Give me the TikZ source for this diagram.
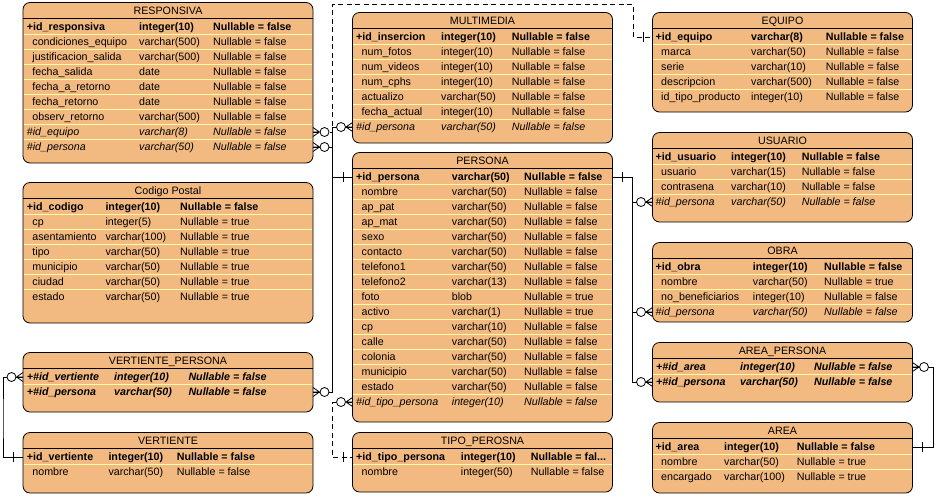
\documentclass[tikz,border=0pt]{standalone}
\usepackage{fontspec}
\setmainfont{Liberation Sans}
\usetikzlibrary{calc}
\definecolor{boxfill}{RGB}{242,186,128}
\definecolor{sepcol}{RGB}{255,255,165}
\newcommand\erfont{\fontsize{10.7}{12}\selectfont}
\newcommand\erSet[8]{\def\erN{#1}\def\erL{#2}\def\erT{#3}\def\erR{#4}\def\erB{#5}\def\erA{#6}\def\erX{#7}\def\erY{#8}}
\newcommand\erBox[2]{%
  \node[erbox, minimum width={(\erR-\erL)*1pt}, minimum height={(\erB-\erT)*1pt}, anchor=north west] (\erN) at (\erL,\erT) {};
  \node[ertitle] (\erN-title) at ({(\erL+\erR)/2},\erT+11.8) {#1};
  \draw[erline] (\erL,\erT+16) -- (\erR,\erT+16);
  \foreach \i in {1,...,#2} {\draw[sepline] (\erL+0.6,{\erT+17+15*\i}) -- (\erR-0.6,{\erT+17+15*\i});}
}
\newcommand\erRow[5]{%
  \pgfmathsetmacro\ery{\erT+24.5+15*#1}%
  \pgfmathsetmacro\erb{\ery+3.9}%
  \coordinate (\erN-#1-w) at (\erL,\ery);
  \coordinate (\erN-#1-e) at (\erR,\ery);
  \node[cell,er#2n] (\erN-#1-n) at (\erA,\erb) {#3};
  \node[cell,er#2v] (\erN-#1-t) at (\erX,\erb) {#4};
  \node[cell,er#2v] (\erN-#1-v) at (\erY,\erb) {#5};
}
\newcommand\manyW[1]{%
  \draw[conn] ($(#1)+(-6.5,0)$) -- ($(#1)+(0,-4.5)$) ($(#1)+(-6.5,0)$) -- ($(#1)+(0,4.5)$) ($(#1)+(-6.5,0)$) -- (#1);
  \draw[conn,fill=white] ($(#1)+(-11.5,0)$) circle[radius=4.5pt];}
\newcommand\manyE[1]{%
  \draw[conn] ($(#1)+(6.5,0)$) -- ($(#1)+(0,-4.5)$) ($(#1)+(6.5,0)$) -- ($(#1)+(0,4.5)$) ($(#1)+(6.5,0)$) -- (#1);
  \draw[conn,fill=white] ($(#1)+(11.5,0)$) circle[radius=4.5pt];}
\newcommand\oneW[1]{\draw[conn] ($(#1)+(-9.5,-5)$) -- ($(#1)+(-9.5,5)$);}
\newcommand\oneE[1]{\draw[conn] ($(#1)+(9.5,-5)$) -- ($(#1)+(9.5,5)$);}
\tikzset{
  erbox/.style={draw=black, line width=0.8pt, fill=boxfill, rounded corners=7pt, inner sep=0pt, outer sep=0pt},
  ertitle/.style={anchor=base, inner sep=0pt, font=\erfont},
  erline/.style={draw=black, line width=0.8pt},
  sepline/.style={draw=sepcol, line width=0.9pt},
  cell/.style={anchor=base west, inner sep=0pt, font=\erfont},
  erkn/.style={font={\erfont\bfseries}}, erkv/.style={font={\erfont\bfseries}},
  erpn/.style={xshift=5.5pt}, erpv/.style={},
  erfn/.style={font={\erfont\itshape}}, erfv/.style={font={\erfont\itshape}},
  erbn/.style={font={\erfont\bfseries\itshape}}, erbv/.style={font={\erfont\bfseries\itshape}},
  conn/.style={draw=black, line width=0.8pt},
  dconn/.style={conn, dash pattern=on 5pt off 3.5pt}
}
\begin{document}
\begin{tikzpicture}[x=1pt, y=-1pt]
\fill[white] (0,0) rectangle (936,496);
\useasboundingbox (0,0) rectangle (936,496);

% RESPONSIVA
\erSet{RESP}{23}{2.5}{313}{163}{26.7}{139}{213}
\erBox{RESPONSIVA}{8}
\erRow{0}{k}{+id\_responsiva}{integer(10)}{Nullable = false}
\erRow{1}{p}{condiciones\_equipo}{varchar(500)}{Nullable = false}
\erRow{2}{p}{justificacion\_salida}{varchar(500)}{Nullable = false}
\erRow{3}{p}{fecha\_salida}{date}{Nullable = false}
\erRow{4}{p}{fecha\_a\_retorno}{date}{Nullable = false}
\erRow{5}{p}{fecha\_retorno}{date}{Nullable = false}
\erRow{6}{p}{observ\_retorno}{varchar(500)}{Nullable = false}
\erRow{7}{f}{\#id\_equipo}{varchar(8)}{Nullable = false}
\erRow{8}{f}{\#id\_persona}{varchar(50)}{Nullable = false}

% Codigo Postal
\erSet{CPOS}{23}{182.5}{313}{323}{26.7}{105.3}{180}
\erBox{Codigo Postal}{6}
\erRow{0}{k}{+id\_codigo}{integer(10)}{Nullable = false}
\erRow{1}{p}{cp}{integer(5)}{Nullable = true}
\erRow{2}{p}{asentamiento}{varchar(100)}{Nullable = true}
\erRow{3}{p}{tipo}{varchar(50)}{Nullable = true}
\erRow{4}{p}{municipio}{varchar(50)}{Nullable = true}
\erRow{5}{p}{ciudad}{varchar(50)}{Nullable = true}
\erRow{6}{p}{estado}{varchar(50)}{Nullable = true}

% VERTIENTE_PERSONA
\erSet{VPER}{23}{352.5}{313}{412}{26.7}{114}{188.3}
\erBox{VERTIENTE\_PERSONA}{1}
\erRow{0}{b}{+\#id\_vertiente}{integer(10)}{Nullable = false}
\erRow{1}{b}{+\#id\_persona}{varchar(50)}{Nullable = false}

% VERTIENTE
\erSet{VERT}{23}{432.5}{313}{493}{26.7}{108.3}{176.7}
\erBox{VERTIENTE}{1}
\erRow{0}{k}{+id\_vertiente}{integer(10)}{Nullable = false}
\erRow{1}{p}{nombre}{varchar(50)}{Nullable = false}

% MULTIMEDIA
\erSet{MULT}{352.5}{12.5}{612.5}{143}{356}{441}{511.7}
\erBox{MULTIMEDIA}{6}
\erRow{0}{k}{+id\_insercion}{integer(10)}{Nullable = false}
\erRow{1}{p}{num\_fotos}{integer(10)}{Nullable = false}
\erRow{2}{p}{num\_videos}{integer(10)}{Nullable = false}
\erRow{3}{p}{num\_cphs}{integer(10)}{Nullable = false}
\erRow{4}{p}{actualizo}{varchar(50)}{Nullable = false}
\erRow{5}{p}{fecha\_actual}{integer(10)}{Nullable = false}
\erRow{6}{f}{\#id\_persona}{varchar(50)}{Nullable = false}

% PERSONA
\erSet{PERS}{352.5}{152.5}{612.5}{422}{356}{451.7}{524}
\erBox{PERSONA}{15}
\erRow{0}{k}{+id\_persona}{varchar(50)}{Nullable = false}
\erRow{1}{p}{nombre}{varchar(50)}{Nullable = false}
\erRow{2}{p}{ap\_pat}{varchar(50)}{Nullable = false}
\erRow{3}{p}{ap\_mat}{varchar(50)}{Nullable = false}
\erRow{4}{p}{sexo}{varchar(50)}{Nullable = false}
\erRow{5}{p}{contacto}{varchar(50)}{Nullable = false}
\erRow{6}{p}{telefono1}{varchar(50)}{Nullable = false}
\erRow{7}{p}{telefono2}{varchar(13)}{Nullable = false}
\erRow{8}{p}{foto}{blob}{Nullable = true}
\erRow{9}{p}{activo}{varchar(1)}{Nullable = true}
\erRow{10}{p}{cp}{varchar(10)}{Nullable = false}
\erRow{11}{p}{calle}{varchar(50)}{Nullable = false}
\erRow{12}{p}{colonia}{varchar(50)}{Nullable = false}
\erRow{13}{p}{municipio}{varchar(50)}{Nullable = false}
\erRow{14}{p}{estado}{varchar(50)}{Nullable = false}
\erRow{15}{f}{\#id\_tipo\_persona}{integer(10)}{Nullable = false}

% TIPO_PEROSNA
\erSet{TIPO}{352.5}{432.5}{612.5}{492}{356}{460.7}{530.7}
\erBox{TIPO\_PEROSNA}{1}
\erRow{0}{k}{+id\_tipo\_persona}{integer(10)}{Nullable = fal...}
\erRow{1}{p}{nombre}{integer(50)}{Nullable = false}

% EQUIPO
\erSet{EQUI}{652.5}{12.5}{912.5}{112}{655.5}{751}{825.7}
\erBox{EQUIPO}{4}
\erRow{0}{k}{+id\_equipo}{varchar(8)}{Nullable = false}
\erRow{1}{p}{marca}{varchar(50)}{Nullable = false}
\erRow{2}{p}{serie}{varchar(10)}{Nullable = false}
\erRow{3}{p}{descripcion}{varchar(500)}{Nullable = false}
\erRow{4}{p}{id\_tipo\_producto}{integer(10)}{Nullable = false}

% USUARIO
\erSet{USUA}{652.5}{132.5}{912.5}{222}{655.5}{731}{801.7}
\erBox{USUARIO}{3}
\erRow{0}{k}{+id\_usuario}{integer(10)}{Nullable = false}
\erRow{1}{p}{usuario}{varchar(15)}{Nullable = false}
\erRow{2}{p}{contrasena}{varchar(10)}{Nullable = false}
\erRow{3}{f}{\#id\_persona}{varchar(50)}{Nullable = false}

% OBRA
\erSet{OBRA}{652.5}{242.5}{912.5}{322}{655.5}{752.7}{824}
\erBox{OBRA}{3}
\erRow{0}{k}{+id\_obra}{integer(10)}{Nullable = false}
\erRow{1}{p}{nombre}{varchar(50)}{Nullable = true}
\erRow{2}{p}{no\_beneficiarios}{integer(10)}{Nullable = false}
\erRow{3}{f}{\#id\_persona}{varchar(50)}{Nullable = false}

% AREA_PERSONA
\erSet{APER}{652.5}{342.5}{912.5}{402}{656}{740}{814}
\erBox{AREA\_PERSONA}{1}
\erRow{0}{b}{+\#id\_area}{integer(10)}{Nullable = false}
\erRow{1}{b}{+\#id\_persona}{varchar(50)}{Nullable = false}

% AREA
\erSet{AREA}{652.5}{422.5}{912.5}{493}{655.5}{724}{796.7}
\erBox{AREA}{2}
\erRow{0}{k}{+id\_area}{integer(10)}{Nullable = false}
\erRow{1}{p}{nombre}{varchar(50)}{Nullable = true}
\erRow{2}{p}{encargado}{varchar(100)}{Nullable = true}

% routing points
\coordinate (jA1) at (332,4);
\coordinate (jA2) at (633,4);
\coordinate (tL) at (332,177);
\coordinate (tB) at (332,430);
\coordinate (tR) at (632,177);
\coordinate (tI) at (933,400);
\coordinate (tJ) at (3,420);

% connectors
\draw[dconn] (RESP-7-e) -| (jA1) -- (jA2) |- (EQUI-0-w);
\draw[conn] (RESP-8-e) -| (tL) -- (PERS-0-w);
\draw[conn] (MULT-6-w) -| (tL) -- (PERS-0-w);
\draw[conn] (VPER-1-e) -| (tL) -- (PERS-0-w);
\draw[dconn] (PERS-15-w) -| (tB) |- (TIPO-0-w);
\draw[conn] (USUA-3-w) -| (tR) -- (PERS-0-e);
\draw[conn] (OBRA-3-w) -| (tR);
\draw[conn] (APER-1-w) -| (tR);
\draw[conn] (APER-0-e) -| (tI) |- (AREA-0-e);
\draw[conn] (VPER-0-w) -| (tJ) |- (VERT-0-w);

% ends
\manyE{RESP-7-e}
\manyE{RESP-8-e}
\manyW{MULT-6-w}
\manyE{VPER-1-e}
\manyW{PERS-15-w}
\manyW{USUA-3-w}
\manyW{OBRA-3-w}
\manyW{APER-1-w}
\manyE{APER-0-e}
\manyW{VPER-0-w}
\oneW{EQUI-0-w}
\oneW{PERS-0-w}
\oneW{TIPO-0-w}
\oneE{PERS-0-e}
\oneE{AREA-0-e}
\oneW{VERT-0-w}
\end{tikzpicture}
\end{document}
